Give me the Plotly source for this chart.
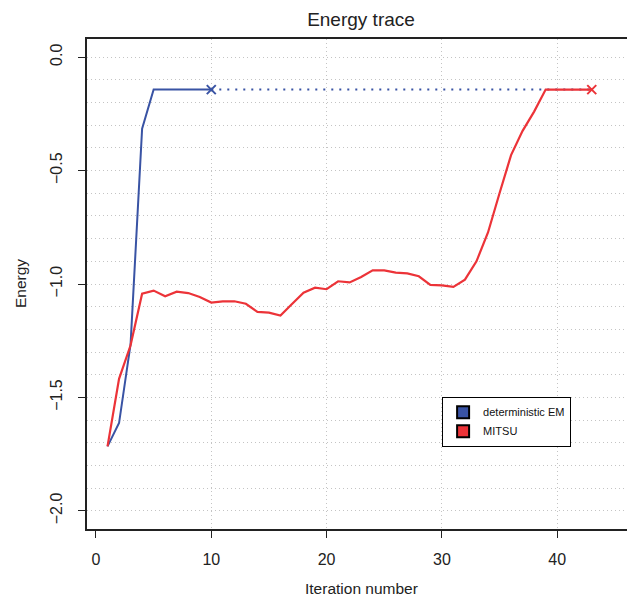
import plotly.graph_objects as go

# ---- data ----
em_iter = list(range(1, 11))
em_energy = [-1.716, -1.613, -1.265, -0.315, -0.143, -0.143, -0.143, -0.143, -0.143, -0.143]

mitsu_iter = list(range(1, 44))
mitsu_energy = [-1.716, -1.418, -1.27, -1.043, -1.029, -1.054, -1.034, -1.040, -1.057, -1.082,
                -1.077, -1.076, -1.087, -1.123, -1.126, -1.139, -1.088, -1.038, -1.016, -1.023,
                -0.988, -0.993, -0.969, -0.940, -0.940, -0.950, -0.953, -0.966, -1.004, -1.006,
                -1.013, -0.981, -0.900, -0.773, -0.600, -0.432, -0.325, -0.240, -0.143, -0.143,
                -0.143, -0.143, -0.143]

series_names = ["deterministic EM", "MITSU"]
x_ticks = [0, 10, 20, 30, 40]
x_grid = [10, 20, 30, 40]
y_ticks = [-2.0, -1.5, -1.0, -0.5, 0.0]

BLUE = "#3953a4"
RED = "#ec3338"
FONT = "Liberation Sans, Arial, sans-serif"
GRID = "#c4c4c4"

# page body has an 8px default margin; compensate
OFF = 8
W, H = 635 - OFF, 597 - OFF

fig = go.Figure()

# vertical grid helper axis (no data)
fig.add_trace(go.Scatter(x=[None], y=[None], xaxis="x2", showlegend=False, hoverinfo="skip"))

# blue dotted continuation
fig.add_trace(go.Scatter(
    x=[em_iter[-1], mitsu_iter[-1]], y=[em_energy[-1], em_energy[-1]],
    mode="lines", line=dict(color=BLUE, width=2, dash="2px,6px"), showlegend=False))

fig.add_trace(go.Scatter(x=em_iter, y=em_energy, mode="lines",
                         line=dict(color=BLUE, width=2), showlegend=False))
fig.add_trace(go.Scatter(x=mitsu_iter, y=mitsu_energy, mode="lines",
                         line=dict(color=RED, width=2.2), showlegend=False))

# end markers
fig.add_trace(go.Scatter(x=[em_iter[-1]], y=[em_energy[-1]], mode="markers",
                         marker=dict(symbol="x-thin", size=9, line=dict(color=BLUE, width=2)),
                         showlegend=False))
fig.add_trace(go.Scatter(x=[mitsu_iter[-1]], y=[mitsu_energy[-1]], mode="markers",
                         marker=dict(symbol="x-thin", size=9, line=dict(color=RED, width=2)),
                         showlegend=False))

# legend entries
for name, col in zip(series_names, [BLUE, RED]):
    fig.add_trace(go.Scatter(x=[None], y=[None], mode="markers", name=name,
                             marker=dict(symbol="square", size=8, color=col,
                                         line=dict(color="black", width=1))))

plot_top, plot_bottom = 39.3, 529.3
fig.update_layout(
    width=W, height=H,
    margin=dict(l=87 - OFF, r=0, t=plot_top - OFF, b=H - (plot_bottom - OFF)),
    paper_bgcolor="white", plot_bgcolor="white",
    font=dict(family=FONT, color="#222222"),
    title=dict(text="Energy trace", x=0.5, xref="paper", xanchor="center",
               y=1 - (19.5 - OFF) / H, yref="container", yanchor="middle",
               font=dict(size=19, color="#222222")),
    showlegend=True,
    legend=dict(x=0.648, y=(plot_bottom - 397) / 490, xanchor="left", yanchor="top",
                bordercolor="black", borderwidth=1, bgcolor="white",
                font=dict(size=11, color="#111111"), tracegroupgap=0,
                itemsizing="constant"),
    xaxis=dict(range=[-0.78, 46.75], tickmode="array", tickvals=x_ticks,
               ticks="outside", ticklen=7, tickwidth=1.3, tickcolor="#222",
               ticklabelstandoff=8,
               showline=True, linecolor="#222", linewidth=1.5, mirror=True,
               showgrid=False, zeroline=False, tickfont=dict(size=16)),
    xaxis2=dict(overlaying="x", matches="x", tickmode="array", tickvals=x_grid,
                showticklabels=False, ticks="", showline=False,
                showgrid=True, gridcolor=GRID, griddash="1px,3px", gridwidth=1,
                zeroline=False),
    yaxis=dict(range=[-2.08, 0.08], tickmode="array", tickvals=y_ticks,
               tickformat=".1f", tickangle=-90,
               ticks="outside", ticklen=7, tickwidth=1.3, tickcolor="#222",
               ticklabelstandoff=10,
               showline=True, linecolor="#222", linewidth=1.5,
               showgrid=True, gridcolor=GRID, griddash="1px,3px", gridwidth=1,
               minor=dict(tick0=0, dtick=0.1, showgrid=True, gridcolor=GRID,
                          griddash="1px,3px", gridwidth=1, ticks=""),
               zeroline=False, tickfont=dict(size=16)),
    annotations=[
        dict(text="Iteration number", xref="paper", yref="paper", x=0.5,
             y=(plot_bottom - 589) / 490,
             xanchor="center", yanchor="middle", showarrow=False,
             font=dict(size=15.5, color="#222222")),
        dict(text="Energy", xref="paper", yref="paper", x=(20 - 87) / 548, y=0.5,
             xanchor="center", yanchor="middle", textangle=-90, showarrow=False,
             font=dict(size=15.5, color="#222222")),
    ],
)

fig.write_html("out.html")
